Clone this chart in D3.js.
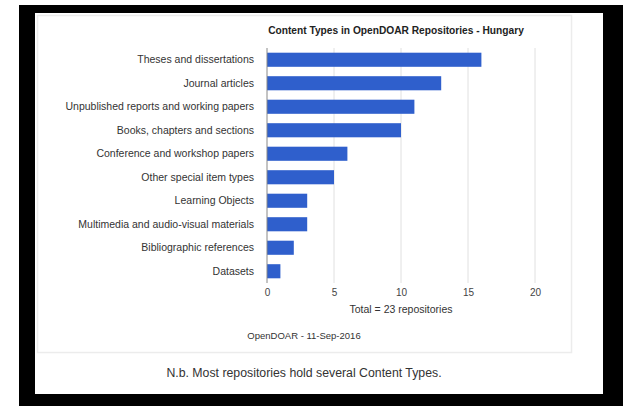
<!DOCTYPE html>
<html>
<head>
<meta charset="utf-8">
<script src="https://cdn.jsdelivr.net/npm/d3@7"></script>
<style>
  html, body { margin: 0; padding: 0; background: #fff; }
  svg { display: block; font-family: "Liberation Sans", Arial, sans-serif; }
</style>
</head>
<body>
<svg id="chart" width="623" height="406"></svg>
<script>
const categories = [
  "Theses and dissertations",
  "Journal articles",
  "Unpublished reports and working papers",
  "Books, chapters and sections",
  "Conference and workshop papers",
  "Other special item types",
  "Learning Objects",
  "Multimedia and audio-visual materials",
  "Bibliographic references",
  "Datasets"
];
const values = [16, 13, 11, 10, 6, 5, 3, 3, 2, 1];
const xTicks = [0, 5, 10, 15, 20];
const titleText = "Content Types in OpenDOAR Repositories - Hungary";
const xAxisTitle = "Total = 23 repositories";
const sourceText = "OpenDOAR - 11-Sep-2016";
const noteText = "N.b. Most repositories hold several Content Types.";

const svg = d3.select("#chart");

// frame
svg.append("rect").attr("x", 19).attr("y", 5).attr("width", 604).attr("height", 401).attr("fill", "#000");
svg.append("rect").attr("x", 35).attr("y", 13).attr("width", 568).attr("height", 381).attr("fill", "#fff");
svg.append("rect").attr("x", 37.5).attr("y", 15.5).attr("width", 534).attr("height", 337)
  .attr("fill", "#fff").attr("stroke", "#ececec").attr("stroke-width", 1.5);

const x = d3.scaleLinear().domain([0, 20]).range([267, 535]);
const y = d3.scaleBand().domain(categories).range([48, 283]).paddingInner(0.4).paddingOuter(0.2);

// gridlines
svg.append("g").selectAll("line").data(xTicks.slice(1)).join("line")
  .attr("x1", d => x(d)).attr("x2", d => x(d))
  .attr("y1", 48).attr("y2", 283)
  .attr("stroke", "#e0e0e0").attr("stroke-width", 1);

// bars
svg.append("g").selectAll("rect").data(values).join("rect")
  .attr("x", x(0))
  .attr("y", (d, i) => y(categories[i]))
  .attr("width", d => x(d) - x(0))
  .attr("height", y.bandwidth())
  .attr("fill", "#2f5fcc");

// baseline
svg.append("line").attr("x1", x(0)).attr("x2", x(0)).attr("y1", 48).attr("y2", 283)
  .attr("stroke", "#888").attr("stroke-width", 1);

// category labels
const yAxis = d3.axisLeft(y).tickSize(0).tickPadding(0);
const gy = svg.append("g").attr("transform", "translate(254,0)").call(yAxis);
gy.select(".domain").remove();
gy.selectAll("text").attr("font-size", 10.5).attr("fill", "#333").attr("font-family", "Liberation Sans, Arial, sans-serif");

// x tick labels
const xAxis = d3.axisBottom(x).tickValues(xTicks).tickSize(0).tickPadding(0);
const gx = svg.append("g").attr("transform", "translate(0,289)").call(xAxis);
gx.select(".domain").remove();
gx.selectAll("text").attr("font-size", 10).attr("fill", "#444").attr("font-family", "Liberation Sans, Arial, sans-serif");

// title
svg.append("text").attr("x", 396).attr("y", 34).attr("text-anchor", "middle")
  .attr("font-size", 10.2).attr("font-weight", "bold").attr("fill", "#222").text(titleText);

// axis title
svg.append("text").attr("x", 401).attr("y", 313).attr("text-anchor", "middle")
  .attr("font-size", 10.5).attr("fill", "#333").text(xAxisTitle);

// source
svg.append("text").attr("x", 304).attr("y", 339).attr("text-anchor", "middle")
  .attr("font-size", 9.5).attr("fill", "#333").text(sourceText);

// note
svg.append("text").attr("x", 304).attr("y", 377).attr("text-anchor", "middle")
  .attr("font-size", 12.3).attr("fill", "#333").text(noteText);
</script>
</body>
</html>
